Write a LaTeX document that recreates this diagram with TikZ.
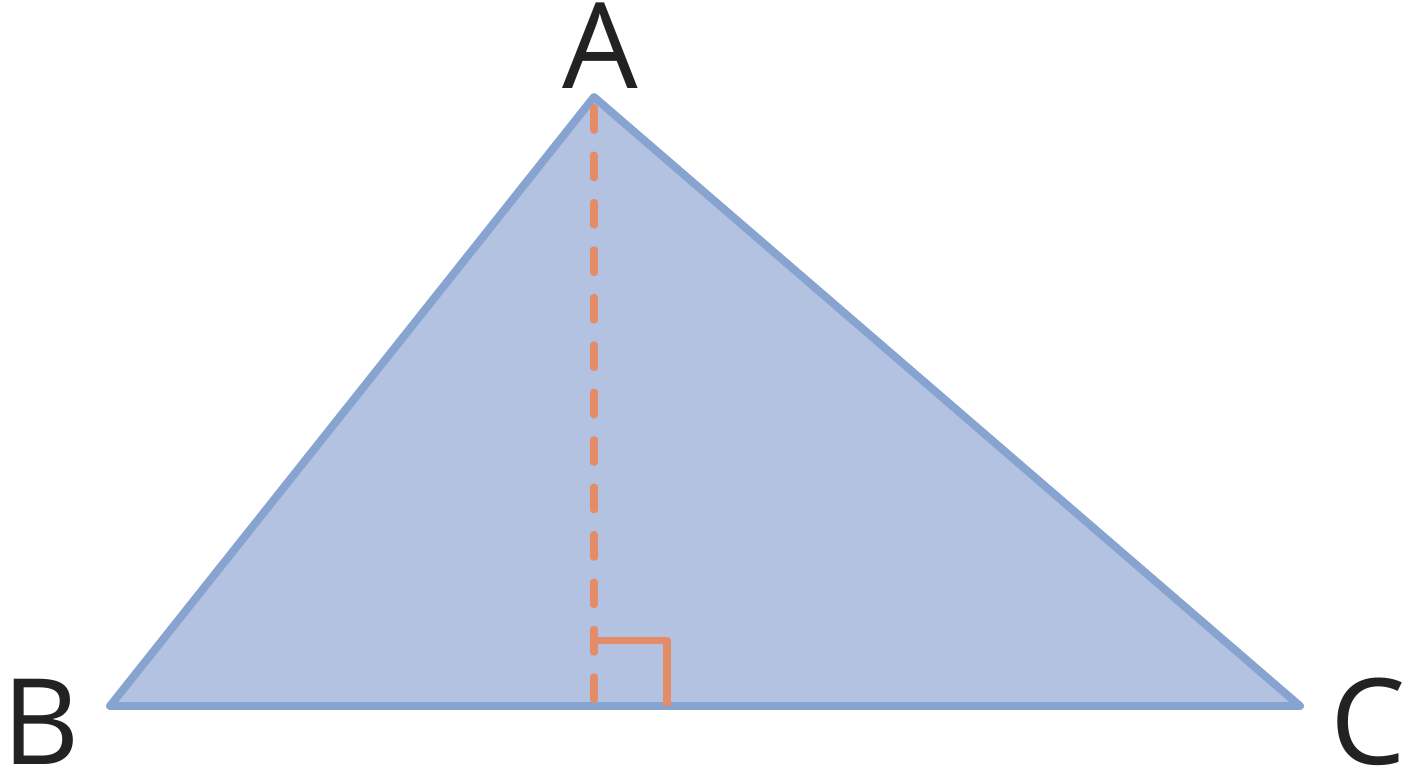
\documentclass[tikz,border=0pt]{standalone}
\usepackage{fontspec}
\setmainfont{Open Sans}
\definecolor{triFill}{RGB}{178,194,224}
\definecolor{triEdge}{RGB}{135,163,207}
\definecolor{altColor}{RGB}{228,140,104}
\definecolor{labelGray}{RGB}{34,34,34}
\begin{document}
\begin{tikzpicture}[x=0.02cm, y=-0.02cm]
    \tikzstyle{edge} = [draw=triEdge, fill=triFill, line width=4.5pt, line join=round]
    \tikzstyle{altitude} = [draw=altColor, line width=4pt, line cap=round, dash pattern=on 13pt off 14pt]
    \tikzstyle{rightangle} = [draw=altColor, line width=4pt, line join=round]
    \tikzstyle{vertex} = [font=\fontsize{68}{68}\selectfont, text=labelGray, inner sep=0pt,
                          text height=47pt, text depth=0pt, anchor=base]
    \useasboundingbox (0,0) rectangle (1408,768);
    \coordinate (A) at (594,97);
    \coordinate (B) at (110,706);
    \coordinate (C) at (1300,706);
    \coordinate (H) at (594,706);
    \path[edge] (A) -- (B) -- (C) -- cycle;
    \draw[altitude] ([yshift=-6]A) -- (H);
    \draw[rightangle] (594,640) -- (667,640) -- (667,706);
    \node[vertex] (labA) at (600,88) {A};
    \node[vertex] (labB) at (41,764) {B};
    \node[vertex] (labC) at (1368,764) {C};
\end{tikzpicture}
\end{document}
